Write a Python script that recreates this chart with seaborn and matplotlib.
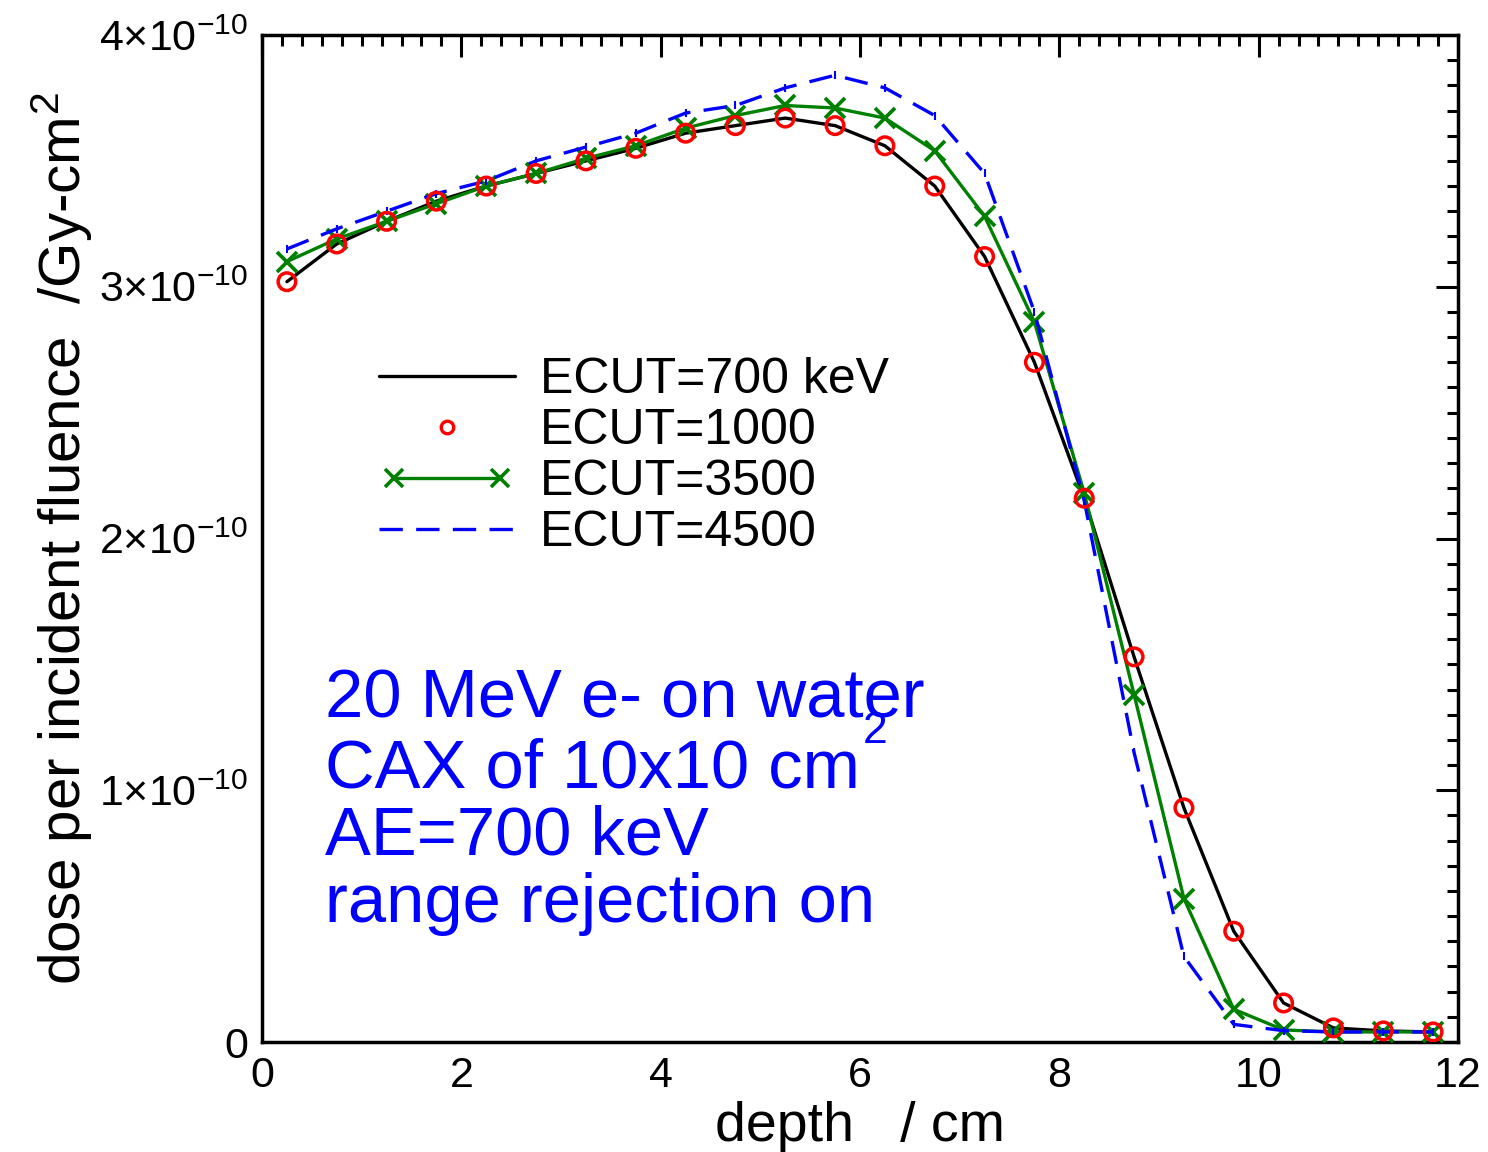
import numpy as np
import pandas as pd
import matplotlib
matplotlib.use("Agg")
import matplotlib.pyplot as plt
import seaborn as sns
from matplotlib.ticker import MultipleLocator, FuncFormatter
from matplotlib.legend_handler import HandlerLine2D

# ---- data (dose in units of 1e-10 Gy-cm^2) ----
depth = [0.25, 0.75, 1.25, 1.75, 2.25, 2.75, 3.25, 3.75, 4.25, 4.75, 5.25, 5.75,
         6.25, 6.75, 7.25, 7.75, 8.25, 8.75, 9.25, 9.75, 10.25, 10.75, 11.25, 11.75]
ecut700 = [3.02, 3.17, 3.26, 3.34, 3.40, 3.45, 3.50, 3.55, 3.61, 3.64, 3.67, 3.64,
           3.56, 3.40, 3.12, 2.70, 2.16, 1.53, 0.93, 0.44, 0.155, 0.056, 0.044, 0.040]
ecut1000 = [3.02, 3.17, 3.26, 3.34, 3.40, 3.45, 3.50, 3.55, 3.61, 3.64, 3.67, 3.64,
            3.56, 3.40, 3.12, 2.70, 2.16, 1.53, 0.93, 0.44, 0.155, 0.056, 0.044, 0.040]
ecut3500 = [3.10, 3.19, 3.26, 3.33, 3.40, 3.45, 3.51, 3.56, 3.63, 3.68, 3.72, 3.71,
            3.67, 3.54, 3.28, 2.86, 2.18, 1.38, 0.57, 0.13, 0.048, 0.040, 0.040, 0.040]
ecut4500 = [3.15, 3.23, 3.30, 3.37, 3.42, 3.50, 3.555, 3.61, 3.69, 3.72, 3.79, 3.84,
            3.79, 3.68, 3.45, 2.90, 2.15, 1.15, 0.34, 0.07, 0.045, 0.040, 0.040, 0.040]
labels = ["ECUT=700 keV", "ECUT=1000", "ECUT=3500", "ECUT=4500"]
scale = 1e-10

df = pd.DataFrame({"depth": depth,
                   "e700": np.array(ecut700) * scale,
                   "e1000": np.array(ecut1000) * scale,
                   "e3500": np.array(ecut3500) * scale,
                   "e4500": np.array(ecut4500) * scale})

sns.set_style("white")
plt.rcParams["font.family"] = ["Liberation Sans", "DejaVu Sans"]
plt.rcParams["mathtext.default"] = "regular"
for k in ["text.color", "axes.labelcolor", "xtick.color", "ytick.color", "axes.edgecolor"]:
    plt.rcParams[k] = "black"

fig = plt.figure(figsize=(14.88, 11.52), dpi=100)
ax = fig.add_axes([262/1488, 1 - 1042/1152, (1458-262)/1488, (1042-35)/1152])

green = "#008000"
blue = "#0000ff"

sns.lineplot(data=df, x="depth", y="e700", ax=ax, color="black", lw=2.4, zorder=3)
sns.lineplot(data=df, x="depth", y="e3500", ax=ax, color=green, lw=2.4, zorder=4)
green_line = ax.lines[-1]
green_line.set_marker("x")
green_line.set_markersize(15)
green_line.set_markeredgewidth(2.7)
green_line.set_markeredgecolor(green)
green_line.set_markerfacecolor(green)
sns.lineplot(data=df, x="depth", y="e4500", ax=ax, color=blue, lw=2.4, zorder=5)
blue_line = ax.lines[-1]
blue_line.set_dashes((7, 4))
blue_line.set_marker("|")
blue_line.set_markersize(6)
blue_line.set_markeredgewidth(1.5)
blue_line.set_markeredgecolor(blue)
sns.scatterplot(data=df, x="depth", y="e1000", ax=ax, marker="o", s=160,
                facecolor="none", edgecolor="#ff0000", linewidth=2.5, zorder=6)

ax.set_xlim(0, 12)
ax.set_ylim(0, 4e-10)
ax.xaxis.set_major_locator(MultipleLocator(2))
ax.xaxis.set_minor_locator(MultipleLocator(0.2))
ax.yaxis.set_major_locator(MultipleLocator(1e-10))
ax.yaxis.set_minor_locator(MultipleLocator(0.1e-10))

def yfmt(v, pos):
    n = int(round(v / 1e-10))
    if n == 0:
        return "0"
    return f"{n}$\\times$10$^{{-10}}$"

ax.yaxis.set_major_formatter(FuncFormatter(yfmt))
ax.xaxis.set_major_formatter(FuncFormatter(lambda v, p: f"{int(round(v))}"))

ax.tick_params(which="both", direction="in", top=True, right=True, width=2.2, colors="black")
ax.tick_params(which="major", length=16, labelsize=31, pad=10)
ax.tick_params(which="minor", length=8)
for s in ax.spines.values():
    s.set_linewidth(2.5)
    s.set_color("black")

ax.set_xlabel("depth   / cm", fontsize=40, labelpad=4)
ax.set_ylabel("dose per incident fluence  /Gy-cm$^2$", fontsize=42, labelpad=3)

# legend
h700 = plt.Line2D([], [], color="black", lw=2.4)
h1000 = plt.Line2D([], [], color="#ff0000", lw=0, marker="o", markersize=9,
                   markerfacecolor="none", markeredgewidth=2.4)
h3500 = plt.Line2D([], [], color=green, lw=2.4, marker="x", markersize=13,
                   markeredgewidth=2.6)
h4500 = plt.Line2D([], [], color=blue, lw=2.4, dashes=(7, 4))
leg = ax.legend([h700, h1000, h3500, h4500], labels,
                handler_map={h1000: HandlerLine2D(numpoints=1),
                             h3500: HandlerLine2D(numpoints=2)},
                loc="upper left", bbox_to_anchor=(0.0975, 0.68), frameon=False,
                fontsize=36, handlelength=2.72, handletextpad=0.5,
                labelspacing=0.1, borderpad=0, borderaxespad=0)

# annotation
fs = 49.5
ax.text(0.053, 0.322, "20 MeV e- on water", transform=ax.transAxes, color=blue,
        fontsize=fs, va="baseline", ha="left")
ax.text(0.053, 0.253, "CAX of 10x10 cm", transform=ax.transAxes, color=blue,
        fontsize=fs, va="baseline", ha="left")
ax.text(0.502, 0.297, "2", transform=ax.transAxes, color=blue,
        fontsize=32, va="baseline", ha="left")
ax.text(0.053, 0.186, "AE=700 keV", transform=ax.transAxes, color=blue,
        fontsize=fs, va="baseline", ha="left")
ax.text(0.053, 0.119, "range rejection on", transform=ax.transAxes, color=blue,
        fontsize=fs, va="baseline", ha="left")

fig.savefig("out.png", dpi=100)
